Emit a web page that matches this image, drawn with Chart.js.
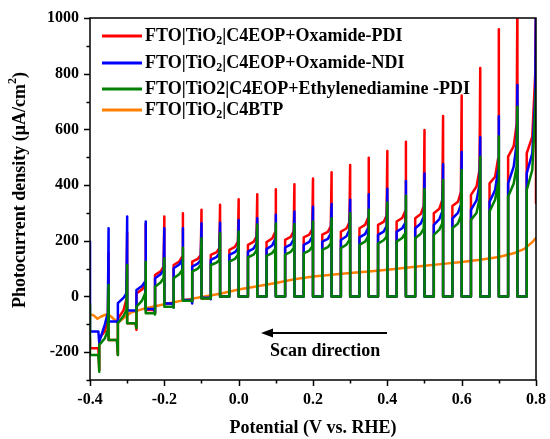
<!DOCTYPE html>
<html>
<head>
<meta charset="utf-8">
<script src="https://cdn.jsdelivr.net/npm/chart.js@4.4.1/dist/chart.umd.min.js"></script>
<style>
  html, body { margin: 0; padding: 0; background: #fff; }
  #wrap { width: 550px; height: 439px; }
</style>
</head>
<body>
<div id="wrap"><canvas id="lsvChart" width="550" height="439"></canvas></div>
<script>
// light-on potentials of the chopped scan (V vs. RHE); each light/dark half lasts HALF volts
const lightOnV = [-0.40, -0.35, -0.30, -0.25, -0.20, -0.15, -0.10, -0.05, 0.00, 0.05, 0.10, 0.15,
                  0.20, 0.25, 0.30, 0.35, 0.40, 0.45, 0.50, 0.55, 0.60, 0.65, 0.70, 0.75, 0.80];
const HALF = 0.025;

// FTO|TiO2|C4EOP+Oxamide-PDI
const redPeak = [-150, 156, 230, 260, 287, 299, 311, 329, 349, 367, 385, 403, 424, 446, 472, 498, 522, 556, 598, 648, 722, 820, 960, 1100, 1100];
const redLo   = [null, -150, -80, 11, 77, 113, 125, 149, 167, 185, 195, 203, 212, 222, 233, 245, 257, 269, 281, 299, 325, 365, 406, 502, 514];
const redMid  = [null, -125, -50, 25, 90, 125, 135, 158, 178, 196, 208, 214, 222, 232, 244, 257, 268, 282, 296, 315, 340, 395, 430, 540, 574];
const redHi   = [null, -85, -10, 43, 107, 143, 149, 173, 197, 215, 230, 234, 242, 253, 266, 282, 290, 306, 325, 347, 376, 454, 495, 620, 800];
const redDark = [-186, -156, -96, -49, -25, -13, -7, 0, 0, 0, 0, 0, 0, 0, 0, 0, 0, 0, 0, 0, 0, 0, 0, 0, 336];
const redDip  = [-264, -210, -120, -60, -30, -15, -7, 0, 0, 0, 0, 0, 0, 0, 0, 0, 0, 0, 0, 0, 0, 0, 0, 0, null];

// FTO|TiO2|C4EOP+Oxamide-NDI
const bluePeak = [197, 245, 287, 269, 245, 245, 263, 265, 275, 281, 293, 305, 322, 332, 347, 367, 387, 415, 442, 475, 519, 572, 647, 759, 1100];
const blueLo   = [null, -162, -24, 23, 65, 101, 107, 131, 149, 161, 170, 176, 185, 197, 203, 212, 221, 233, 245, 257, 280, 311, 340, 406, 442];
const blueMid  = [null, -100, -5, 38, 80, 115, 118, 141, 159, 172, 183, 186, 196, 207, 216, 224, 233, 245, 262, 278, 300, 345, 382, 466, 514];
const blueHi   = [null, -60, 11, 53, 95, 131, 131, 155, 173, 191, 205, 205, 215, 227, 239, 245, 253, 263, 287, 305, 330, 400, 454, 550, 720];
const blueDark = [-126, -90, -50, -45, -25, -13, -5, 0, 0, 0, 0, 0, 0, 0, 0, 0, 0, 0, 0, 0, 0, 0, 0, 0, null];
const blueDip  = [-167, -95, -55, -58, -40, -25, -10, 0, 0, 0, 0, 0, 0, 0, 0, 0, 0, 0, 0, 0, 0, 0, 0, 0, null];

// FTO|TiO2|C4EOP+Ethylenediamine-PDI
const greenPeak = [-31, 41, 113, 125, 137, 175, 209, 227, 233, 258, 262, 260, 269, 281, 299, 311, 337, 362, 386, 418, 454, 502, 574, 681, 745];
const greenLo   = [null, -174, -96, -37, 35, 65, 89, 113, 125, 140, 146, 150, 155, 167, 173, 185, 190, 197, 209, 221, 245, 275, 305, 358, 382];
const greenMid  = [null, -150, -70, -15, 50, 80, 100, 121, 135, 150, 156, 160, 165, 177, 186, 197, 202, 210, 225, 240, 262, 300, 347, 406, 454];
const greenHi   = [null, -120, -49, 11, 66, 95, 113, 131, 149, 165, 170, 174, 179, 191, 203, 215, 215, 227, 245, 263, 290, 350, 406, 466, 670];
const greenDark = [-210, -156, -96, -60, -37, -15, -7, 0, 0, 0, 0, 0, 0, 0, 0, 0, 0, 0, 0, 0, 0, 0, 0, 0, null];
const greenDip  = [-270, -210, -113, -65, -40, -18, -7, 0, 0, 0, 0, 0, 0, 0, 0, 0, 0, 0, 0, 0, 0, 0, 0, 0, null];

// FTO|TiO2|C4BTP (no chopping response)
const orangeV = [-0.40, -0.39, -0.38, -0.37, -0.36, -0.345, -0.33, -0.325, -0.31, -0.29, -0.25, -0.20, -0.15, -0.10, -0.05,
                 0.00, 0.05, 0.10, 0.15, 0.20, 0.25, 0.30, 0.35, 0.40, 0.45, 0.50, 0.55, 0.60, 0.65, 0.70, 0.74, 0.77, 0.79, 0.80];
const orangeI = [-65, -68, -80, -72, -66, -70, -88, -95, -78, -58, -42, -28, -14, -2, 10,
                 25, 37, 48, 62, 72, 78, 84, 90, 96, 103, 110, 117, 124, 132, 142, 155, 172, 195, 210];

const xTicks = [-0.4, -0.2, 0.0, 0.2, 0.4, 0.6, 0.8];
const yTicks = [-200, 0, 200, 400, 600, 800, 1000];

const legendItems = [
    { color: '#ff0000', parts: [['FTO|TiO'], ['2', 'sub'], ['|C4EOP+Oxamide-PDI']] },
    { color: '#0000ff', parts: [['FTO|TiO'], ['2', 'sub'], ['|C4EOP+Oxamide-NDI']] },
    { color: '#008000', parts: [['FTO|TiO2|C4EOP+Ethylenediamine -PDI']] },
    { color: '#ff8000', parts: [['FTO|TiO'], ['2', 'sub'], ['|C4BTP']] }
];

const SERIF = '"Liberation Serif", "Times New Roman", serif';

// turn the per-cycle readings into a stepped chopped-light trace
function buildChopped(peak, lo, mid, hi, dark, dip) {
    const pts = [];
    lightOnV.forEach((v, i) => {
        if (lo[i] !== null) {
            pts.push({ x: v - HALF, y: lo[i] });
            pts.push({ x: v - HALF * 0.4, y: mid[i] });
            pts.push({ x: v - HALF * 0.08, y: hi[i] });
        }
        pts.push({ x: v, y: peak[i] });
        if (dark[i] !== null) {
            pts.push({ x: v, y: dark[i] });
            if (i < lightOnV.length - 1) {
                pts.push({ x: v + HALF * 0.9, y: dark[i] });
                pts.push({ x: v + HALF, y: dip[i] });
            }
        }
    });
    return pts;
}

// draws a run of text pieces, with optional sub/superscript pieces
function drawRich(ctx, parts, x, y, size) {
    let cx = x;
    parts.forEach(([t, kind]) => {
        if (kind) {
            ctx.font = 'bold ' + Math.round(size * 0.68) + 'px ' + SERIF;
            const dy = kind === 'sub' ? size * 0.3 : -size * 0.38;
            ctx.fillText(t, cx, y + dy);
        } else {
            ctx.font = 'bold ' + size + 'px ' + SERIF;
            ctx.fillText(t, cx, y);
        }
        cx += ctx.measureText(t).width;
    });
    return cx - x;
}

function measureRich(ctx, parts, size) {
    let w = 0;
    parts.forEach(([t, kind]) => {
        ctx.font = 'bold ' + (kind ? Math.round(size * 0.68) : size) + 'px ' + SERIF;
        w += ctx.measureText(t).width;
    });
    return w;
}

const framePlugin = {
    id: 'frameAndTicks',
    afterDatasetsDraw(chart) {
        const { ctx, chartArea: a, scales: { x, y } } = chart;
        ctx.save();
        ctx.strokeStyle = '#000';
        ctx.lineWidth = 1.5;
        ctx.strokeRect(a.left, a.top, a.right - a.left, a.bottom - a.top);
        ctx.beginPath();
        for (let v = -0.4; v <= 0.8001; v += 0.1) {
            const px = Math.round(x.getPixelForValue(v)) + 0.5;
            const major = Math.abs(Math.round(v * 10) % 2) === 0;
            ctx.moveTo(px, a.bottom);
            ctx.lineTo(px, a.bottom + (major ? 6 : 3.5));
        }
        for (let v = -300; v <= 1000; v += 100) {
            const py = Math.round(y.getPixelForValue(v)) + 0.5;
            const major = v % 200 === 0;
            ctx.moveTo(a.left, py);
            ctx.lineTo(a.left - (major ? 6 : 3.5), py);
        }
        ctx.stroke();
        ctx.restore();
    },
    afterDraw(chart) {
        const { ctx, chartArea: a } = chart;
        ctx.save();
        ctx.fillStyle = '#000';
        ctx.textBaseline = 'middle';

        // legend
        const rows = [36, 63, 89, 110];
        legendItems.forEach((item, i) => {
            ctx.strokeStyle = item.color;
            ctx.lineWidth = 3;
            ctx.beginPath();
            ctx.moveTo(102, rows[i]);
            ctx.lineTo(142, rows[i]);
            ctx.stroke();
            ctx.fillStyle = '#000';
            ctx.textAlign = 'left';
            drawRich(ctx, item.parts, 145, rows[i], 18);
        });

        // scan direction arrow
        ctx.strokeStyle = '#000';
        ctx.lineWidth = 2;
        ctx.beginPath();
        ctx.moveTo(387, 333);
        ctx.lineTo(270, 333);
        ctx.stroke();
        ctx.beginPath();
        ctx.moveTo(261, 333);
        ctx.lineTo(273, 328.5);
        ctx.lineTo(273, 337.5);
        ctx.closePath();
        ctx.fill();
        ctx.font = 'bold 18px ' + SERIF;
        ctx.textAlign = 'left';
        ctx.fillText('Scan direction', 270, 351);

        // x title
        ctx.textAlign = 'center';
        ctx.font = 'bold 18px ' + SERIF;
        ctx.fillText('Potential (V vs. RHE)', (a.left + a.right) / 2, 428);

        // y title, rotated
        const yParts = [['Photocurrent density (\u03bcA/cm'], ['2', 'sup'], [')']];
        ctx.translate(20, 190);
        ctx.rotate(-Math.PI / 2);
        ctx.textAlign = 'left';
        const w = measureRich(ctx, yParts, 18);
        drawRich(ctx, yParts, -w / 2, 0, 18);
        ctx.restore();
    }
};

const tickFont = { family: SERIF, size: 16, weight: 'bold' };

new Chart(document.getElementById('lsvChart'), {
    type: 'scatter',
    data: {
        datasets: [
            { label: 'FTO|TiO2|C4EOP+Oxamide-PDI', data: buildChopped(redPeak, redLo, redMid, redHi, redDark, redDip),
              borderColor: '#ff0000', order: 3 },
            { label: 'FTO|TiO2|C4EOP+Oxamide-NDI', data: buildChopped(bluePeak, blueLo, blueMid, blueHi, blueDark, blueDip),
              borderColor: '#0000ff', order: 2 },
            { label: 'FTO|TiO2|C4EOP+Ethylenediamine -PDI', data: buildChopped(greenPeak, greenLo, greenMid, greenHi, greenDark, greenDip),
              borderColor: '#008000', order: 1 },
            { label: 'FTO|TiO2|C4BTP', data: orangeV.map((v, i) => ({ x: v, y: orangeI[i] })),
              borderColor: '#ff8000', order: 4 }
        ].map(ds => Object.assign(ds, {
            showLine: true, pointRadius: 0, borderWidth: 2.5, tension: 0, fill: false,
            borderJoinStyle: 'round', borderCapStyle: 'round'
        }))
    },
    options: {
        responsive: false,
        animation: false,
        devicePixelRatio: 1,
        layout: { padding: { left: 0, right: 12, top: 18, bottom: 0 } },
        plugins: { legend: { display: false }, tooltip: { enabled: false } },
        scales: {
            x: {
                type: 'linear', min: -0.4, max: 0.8,
                afterBuildTicks: s => { s.ticks = xTicks.map(v => ({ value: v })); },
                afterFit: s => { s.height = 59; },
                ticks: { callback: v => Number(v).toFixed(1), font: tickFont, color: '#000', padding: 4, maxRotation: 0, autoSkip: false },
                grid: { display: false, drawTicks: true, tickLength: 6 },
                border: { display: false }
            },
            y: {
                min: -300, max: 1000,
                afterBuildTicks: s => { s.ticks = yTicks.map(v => ({ value: v })); },
                afterFit: s => { s.width = 90; },
                ticks: { callback: v => String(v), font: tickFont, color: '#000', padding: 5 },
                grid: { display: false, drawTicks: true, tickLength: 6 },
                border: { display: false }
            }
        }
    },
    plugins: [framePlugin]
});
</script>
</body>
</html>
